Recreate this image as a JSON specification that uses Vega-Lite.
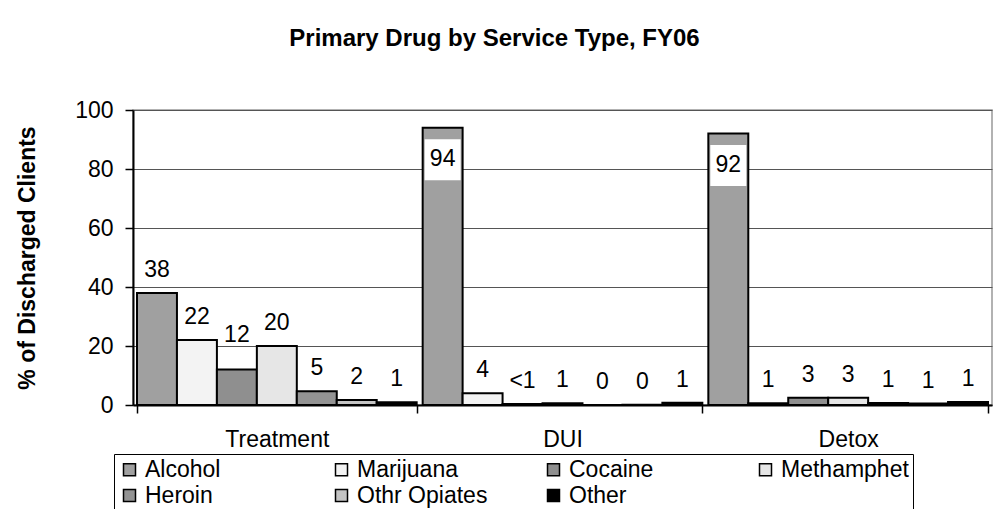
{
  "$schema": "https://vega.github.io/schema/vega-lite/v6.json",
  "width": 859,
  "height": 295,
  "autosize": {"type": "none"},
  "padding": {"left": 133, "top": 110, "right": 9, "bottom": 104},
  "background": "white",
  "title": {
    "text": "Primary Drug by Service Type, FY06",
    "font": "Liberation Sans",
    "fontSize": 24,
    "fontWeight": "bold",
    "color": "black",
    "anchor": "middle",
    "dx": -68,
    "offset": 29,
    "baseline": "alphabetic"
  },
  "config": {
    "font": "Liberation Sans",
    "view": {"stroke": "#999999", "strokeWidth": 1.5}
  },
  "data": {
    "values": [
      {"service": "Treatment", "drug": "Alcohol", "pct": 38, "label": "38"},
      {"service": "Treatment", "drug": "Marijuana", "pct": 22, "label": "22"},
      {"service": "Treatment", "drug": "Cocaine", "pct": 12, "label": "12"},
      {"service": "Treatment", "drug": "Methamphet", "pct": 20, "label": "20"},
      {"service": "Treatment", "drug": "Heroin", "pct": 4.7, "label": "5"},
      {"service": "Treatment", "drug": "Othr Opiates", "pct": 1.7, "label": "2"},
      {"service": "Treatment", "drug": "Other", "pct": 0.9, "label": "1"},
      {"service": "DUI", "drug": "Alcohol", "pct": 94, "label": "94"},
      {"service": "DUI", "drug": "Marijuana", "pct": 4, "label": "4"},
      {"service": "DUI", "drug": "Cocaine", "pct": 0.3, "label": "<1"},
      {"service": "DUI", "drug": "Methamphet", "pct": 0.6, "label": "1"},
      {"service": "DUI", "drug": "Heroin", "pct": 0, "label": "0"},
      {"service": "DUI", "drug": "Othr Opiates", "pct": 0.1, "label": "0"},
      {"service": "DUI", "drug": "Other", "pct": 0.8, "label": "1"},
      {"service": "Detox", "drug": "Alcohol", "pct": 92, "label": "92"},
      {"service": "Detox", "drug": "Marijuana", "pct": 0.6, "label": "1"},
      {"service": "Detox", "drug": "Cocaine", "pct": 2.5, "label": "3"},
      {"service": "Detox", "drug": "Methamphet", "pct": 2.5, "label": "3"},
      {"service": "Detox", "drug": "Heroin", "pct": 0.7, "label": "1"},
      {"service": "Detox", "drug": "Othr Opiates", "pct": 0.5, "label": "1"},
      {"service": "Detox", "drug": "Other", "pct": 1, "label": "1"}
    ]
  },
  "encoding": {
    "x": {
      "field": "service",
      "type": "nominal",
      "sort": ["Treatment", "DUI", "Detox"],
      "scale": {"paddingInner": 0.021, "paddingOuter": 0.014},
      "axis": {
        "title": null,
        "labelAngle": 0,
        "labelFontSize": 23,
        "labelColor": "black",
        "labelPadding": 15,
        "tickBand": "extent",
        "tickSize": 8,
        "tickColor": "black",
        "tickWidth": 1.5,
        "domainColor": "black",
        "domainWidth": 2,
        "grid": false
      }
    },
    "xOffset": {
      "field": "drug",
      "type": "nominal",
      "sort": ["Alcohol", "Marijuana", "Cocaine", "Methamphet", "Heroin", "Othr Opiates", "Other"],
      "scale": {"paddingInner": 0, "paddingOuter": 0}
    },
    "y": {
      "field": "pct",
      "type": "quantitative",
      "scale": {"domain": [0, 100], "nice": false},
      "axis": {
        "title": "% of Discharged Clients",
        "titleFontSize": 23,
        "titleFontWeight": "bold",
        "titleColor": "black",
        "titlePadding": 35,
        "values": [0, 20, 40, 60, 80, 100],
        "labelFontSize": 23,
        "labelColor": "black",
        "labelPadding": 12,
        "tickSize": 8,
        "tickColor": "black",
        "tickWidth": 1.5,
        "domainColor": "black",
        "domainWidth": 2,
        "grid": true,
        "gridColor": "#555555",
        "gridWidth": 1
      }
    }
  },
  "layer": [
    {
      "mark": {"type": "bar", "stroke": "black", "strokeWidth": 2},
      "encoding": {
        "fill": {
          "field": "drug",
          "type": "nominal",
          "sort": ["Alcohol", "Marijuana", "Cocaine", "Methamphet", "Heroin", "Othr Opiates", "Other"],
          "scale": {
            "domain": ["Alcohol", "Marijuana", "Cocaine", "Methamphet", "Heroin", "Othr Opiates", "Other"],
            "range": ["#a0a0a0", "#f3f3f3", "#8f8f8f", "#e6e6e6", "#939393", "#c4c4c4", "#000000"]
          },
          "legend": {
            "title": null,
            "orient": "none",
            "legendX": -19,
            "legendY": 344,
            "direction": "horizontal",
            "columns": 4,
            "gridAlign": "all",
            "columnPadding": 54,
            "rowPadding": 2,
            "symbolType": "square",
            "symbolSize": 144,
            "symbolStrokeColor": "black",
            "symbolStrokeWidth": 1.5,
            "labelFontSize": 23,
            "labelColor": "black",
            "labelOffset": 4,
            "labelLimit": 300,
            "strokeColor": "black",
            "fillColor": "white",
            "padding": 4
          }
        }
      }
    },
    {
      "transform": [{"filter": "datum.pct < 90 && !(datum.service == 'Treatment' && datum.drug == 'Cocaine')"}],
      "mark": {"type": "text", "baseline": "alphabetic", "dy": -16, "fontSize": 23, "color": "black"},
      "encoding": {"text": {"field": "label", "type": "nominal"}}
    },
    {
      "transform": [{"filter": "datum.service == 'Treatment' && datum.drug == 'Cocaine'"}],
      "mark": {"type": "text", "baseline": "alphabetic", "dy": -28, "fontSize": 23, "color": "black"},
      "encoding": {"text": {"field": "label", "type": "nominal"}}
    },
    {
      "transform": [{"filter": "datum.pct >= 90"}],
      "mark": {
        "type": "point",
        "shape": "M-0.878,-1H0.878V1H-0.878Z",
        "filled": true,
        "fill": "white",
        "strokeWidth": 0,
        "opacity": 1,
        "size": 1681,
        "yOffset": 32
      },
      "encoding": {}
    },
    {
      "transform": [{"filter": "datum.pct >= 90"}],
      "mark": {"type": "text", "baseline": "middle", "yOffset": 31, "fontSize": 23, "color": "black"},
      "encoding": {"text": {"field": "label", "type": "nominal"}}
    }
  ]
}
